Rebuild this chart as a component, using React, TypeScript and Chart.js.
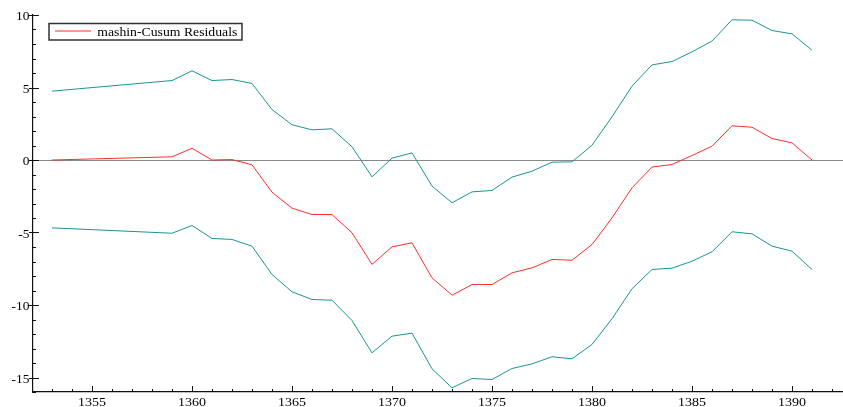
import React, { useEffect, useRef } from "react";
import { Chart, registerables } from "chart.js";

Chart.register(...registerables);

const years = [1353, 1359, 1360, 1361, 1362, 1363, 1364, 1365, 1366, 1367, 1368, 1369, 1370, 1371, 1372, 1373, 1374, 1375, 1376, 1377, 1378, 1379, 1380, 1381, 1382, 1383, 1384, 1385, 1386, 1387, 1388, 1389, 1390, 1391];

const cusum = [0.0, 0.22, 0.81, 0.0, 0.03, -0.33, -2.22, -3.32, -3.76, -3.76, -5.02, -7.2, -5.99, -5.71, -8.13, -9.32, -8.59, -8.59, -7.78, -7.44, -6.86, -6.91, -5.83, -3.99, -1.92, -0.49, -0.31, 0.31, 0.95, 2.36, 2.26, 1.48, 1.18, 0.0];

const upperBound = [4.75, 5.48, 6.15, 5.48, 5.55, 5.28, 3.48, 2.43, 2.08, 2.15, 0.91, -1.16, 0.13, 0.49, -1.8, -2.95, -2.2, -2.1, -1.18, -0.77, -0.15, -0.13, 1.02, 2.98, 5.09, 6.56, 6.79, 7.46, 8.2, 9.67, 9.64, 8.93, 8.7, 7.57];

const lowerBound = [-4.68, -5.05, -4.52, -5.41, -5.48, -5.94, -7.9, -9.09, -9.62, -9.67, -11.07, -13.3, -12.15, -11.94, -14.4, -15.71, -15.07, -15.14, -14.38, -14.06, -13.57, -13.71, -12.72, -10.95, -8.88, -7.55, -7.46, -6.98, -6.33, -4.95, -5.09, -5.94, -6.29, -7.55];

const legendLabel = "mashin-Cusum Residuals";

const X_MIN = 1352.05;
const X_MAX = 1392.55;
const Y_MIN = -16;
const Y_MAX = 10;

const TEAL = "#1a9494";
const RED = "#ff2e2e";
const FONT = '"Liberation Serif", "Times New Roman", serif';
const STRETCH = 1.17;

const toPoints = (vals: number[]) => years.map((x, i) => ({ x, y: vals[i] }));

function stretchedText(ctx: any, text: string, x: number, y: number, align: "left" | "center" | "right", sx: number) {
  const w = ctx.measureText(text).width * sx;
  let left = x;
  if (align === "center") left = x - w / 2;
  else if (align === "right") left = x - w;
  ctx.save();
  ctx.translate(left, y);
  ctx.scale(sx, 1);
  ctx.textAlign = "left";
  ctx.fillText(text, 0, 0);
  ctx.restore();
}

const axisDecorPlugin = {
  id: "axisDecor",
  afterDraw(chart: any) {
    const { ctx, chartArea, scales } = chart;
    const x = scales.x;
    const y = scales.y;
    ctx.save();
    ctx.strokeStyle = "#111";
    ctx.lineWidth = 1;
    ctx.beginPath();
    for (let v = Math.ceil(y.min); v <= y.max; v++) {
      const py = Math.round(y.getPixelForValue(v)) + 0.5;
      const major = v % 5 === 0;
      ctx.moveTo(chartArea.left - (major ? 4 : 0), py);
      ctx.lineTo(chartArea.left + (major ? 6 : 3), py);
    }
    for (let v = Math.ceil(x.min); v <= x.max; v++) {
      const px = Math.round(x.getPixelForValue(v)) + 0.5;
      const major = v % 5 === 0;
      ctx.moveTo(px, chartArea.bottom);
      ctx.lineTo(px, chartArea.bottom - (major ? 6 : 3));
    }
    ctx.stroke();

    // tick labels, from the scales' own ticks
    ctx.fillStyle = "#000";
    ctx.textBaseline = "alphabetic";
    ctx.font = `12px ${FONT}`;
    for (const t of x.ticks) {
      if (t.value % 5 !== 0) continue;
      const px = x.getPixelForValue(t.value);
      stretchedText(ctx, String(t.value), px, 406, "center", STRETCH);
    }
    ctx.font = `11.5px ${FONT}`;
    for (const t of y.ticks) {
      if (t.value % 5 !== 0) continue;
      const py = y.getPixelForValue(t.value);
      stretchedText(ctx, String(t.value), chartArea.left - 3.5, py + 5.2, "right", STRETCH);
    }

    // legend
    ctx.fillStyle = "#fff";
    ctx.fillRect(49, 23.5, 193, 16);
    ctx.strokeStyle = "#333";
    ctx.lineWidth = 1.5;
    ctx.strokeRect(49, 23.5, 193, 16.5);
    ctx.strokeStyle = RED;
    ctx.lineWidth = 1;
    ctx.beginPath();
    ctx.moveTo(55, 31);
    ctx.lineTo(91, 31);
    ctx.stroke();
    ctx.fillStyle = "#000";
    ctx.font = `12px ${FONT}`;
    ctx.textBaseline = "alphabetic";
    const w = ctx.measureText(legendLabel).width;
    stretchedText(ctx, legendLabel, 97.3, 36, "left", 140 / w);
    ctx.restore();
  },
};

export default function App() {
  const canvasRef = useRef<HTMLCanvasElement | null>(null);

  useEffect(() => {
    if (!canvasRef.current) return;
    const chart = new Chart(canvasRef.current, {
      type: "line",
      data: {
        datasets: [
          {
            label: "upper",
            data: toPoints(upperBound),
            borderColor: TEAL,
            borderWidth: 1,
            pointRadius: 0,
            tension: 0,
            fill: false,
          },
          {
            label: legendLabel,
            data: toPoints(cusum),
            borderColor: RED,
            borderWidth: 1,
            pointRadius: 0,
            tension: 0,
            fill: false,
          },
          {
            label: "lower",
            data: toPoints(lowerBound),
            borderColor: TEAL,
            borderWidth: 1,
            pointRadius: 0,
            tension: 0,
            fill: false,
          },
        ],
      },
      options: {
        animation: false,
        responsive: false,
        layout: { padding: { top: 15, right: 0, left: 0, bottom: 0 } },
        plugins: {
          legend: { display: false },
          tooltip: { enabled: false },
        },
        scales: {
          x: {
            type: "linear",
            min: X_MIN,
            max: X_MAX,
            grid: { display: false, drawTicks: false },
            border: { display: true, color: "#111", width: 1.2 },
            ticks: {
              display: false,
              stepSize: 5,
              includeBounds: false,
              autoSkip: false,
              maxRotation: 0,
            },
            afterFit: (scale: any) => {
              scale.height = 15;
            },
          },
          y: {
            type: "linear",
            min: Y_MIN,
            max: Y_MAX,
            grid: {
              display: true,
              drawTicks: false,
              lineWidth: 1,
              color: (c: any) => (c.tick && c.tick.value === 0 ? "#888" : "rgba(0,0,0,0)"),
            },
            border: { display: true, color: "#111", width: 1.2 },
            ticks: {
              display: false,
              stepSize: 5,
              includeBounds: false,
              autoSkip: false,
            },
            afterFit: (scale: any) => {
              scale.width = 33;
            },
          },
        },
      },
      plugins: [axisDecorPlugin],
    });
    return () => chart.destroy();
  }, []);

  return (
    <div style={{ position: "fixed", left: 0, top: 0, width: 843, height: 407, background: "#fff" }}>
      <canvas ref={canvasRef} width={843} height={407} style={{ display: "block" }} />
    </div>
  );
}
